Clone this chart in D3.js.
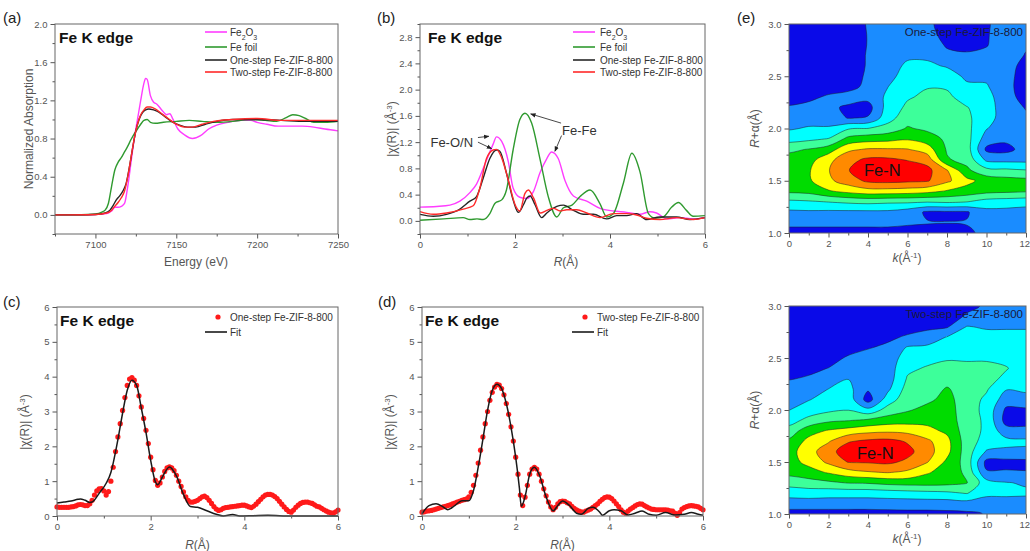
<!DOCTYPE html>
<html>
<head>
<meta charset="utf-8">
<script src="https://cdn.jsdelivr.net/npm/d3@7"></script>
<style>
  html, body { margin: 0; padding: 0; background: #fff; }
  svg { display: block; }
</style>
</head>
<body>
<svg id="fig" width="1030" height="551"></svg>
<script>
// ---------------- XANES (a): energy (eV) vs normalized absorption ----------------
const xanesFe2O3 = [[7075,0],[7090,0],[7100,0.005],[7105,0.01],[7108,0.02],[7110,0.04],[7112,0.08],[7114,0.08],[7116,0.09],[7118,0.12],[7120,0.3],[7122,0.55],[7124,0.8],[7126,1.0],[7128,1.2],[7130,1.38],[7131,1.43],[7132,1.42],[7134,1.25],[7136,1.18],[7138,1.16],[7141,1.1],[7144,1.05],[7146,1.06],[7148,1.0],[7151,0.9],[7155,0.84],[7160,0.8],[7165,0.83],[7170,0.9],[7175,0.94],[7182,0.97],[7190,0.99],[7196,0.99],[7200,0.97],[7206,0.95],[7213,0.93],[7220,0.93],[7228,0.93],[7235,0.92],[7242,0.9],[7250,0.88]];
const xanesFoil = [[7075,0],[7095,0.005],[7100,0.01],[7104,0.03],[7106,0.05],[7108,0.12],[7110,0.3],[7112,0.47],[7114,0.55],[7116,0.6],[7118,0.66],[7120,0.72],[7122,0.79],[7124,0.85],[7126,0.9],[7128,0.95],[7130,0.99],[7132,1.0],[7134,0.97],[7137,0.96],[7142,0.97],[7150,0.98],[7158,0.99],[7166,0.98],[7175,0.97],[7185,0.98],[7195,1.0],[7205,0.99],[7212,0.98],[7218,1.02],[7222,1.05],[7226,1.04],[7230,1.01],[7235,0.97],[7242,0.97],[7250,0.98]];
const xanesOne = [[7075,0],[7100,0.005],[7106,0.02],[7109,0.05],[7111,0.1],[7113,0.16],[7115,0.2],[7117,0.25],[7119,0.33],[7121,0.5],[7123,0.7],[7125,0.88],[7127,1.0],[7129,1.07],[7131,1.1],[7133,1.11],[7136,1.1],[7139,1.08],[7143,1.03],[7147,0.98],[7152,0.94],[7157,0.92],[7162,0.92],[7168,0.95],[7175,0.98],[7185,1.0],[7200,1.0],[7215,0.99],[7230,0.98],[7250,0.98]];
const xanesTwo = [[7075,0],[7100,0.005],[7107,0.02],[7110,0.05],[7112,0.09],[7114,0.13],[7116,0.18],[7118,0.25],[7120,0.4],[7122,0.6],[7124,0.8],[7126,0.95],[7128,1.05],[7130,1.1],[7132,1.13],[7134,1.13],[7137,1.11],[7141,1.06],[7145,1.01],[7150,0.95],[7155,0.92],[7160,0.92],[7166,0.95],[7173,0.98],[7185,1.0],[7200,1.01],[7215,0.99],[7230,0.99],[7250,0.99]];

// ---------------- FT-EXAFS (b): R (Å) vs |χ(R)| ----------------
const ftFe2O3 = [[0,0.21],[0.35,0.22],[0.63,0.24],[0.84,0.3],[1.05,0.43],[1.19,0.56],[1.37,0.87],[1.54,1.17],[1.61,1.28],[1.72,1.21],[1.86,0.9],[1.96,0.5],[2.1,0.36],[2.25,0.34],[2.39,0.45],[2.53,0.74],[2.67,0.95],[2.77,1.05],[2.91,0.95],[3.05,0.62],[3.23,0.38],[3.51,0.3],[3.79,0.19],[4.07,0.15],[4.35,0.13],[4.63,0.1],[4.84,0.14],[4.98,0.12],[5.2,0.03],[5.47,0.05],[5.75,0.03],[6,0.05]];
const ftFoil = [[0,0.01],[0.5,0.03],[0.91,0.05],[1.05,0.02],[1.2,0.03],[1.33,0.02],[1.47,0.11],[1.58,0.27],[1.72,0.32],[1.82,0.47],[1.96,1.08],[2.1,1.54],[2.21,1.64],[2.35,1.49],[2.53,0.93],[2.7,0.37],[2.88,0.06],[3.02,0.2],[3.2,0.24],[3.37,0.37],[3.58,0.47],[3.79,0.26],[3.93,0.06],[4.07,0.11],[4.28,0.57],[4.46,1.03],[4.63,0.75],[4.81,0.11],[4.95,0.04],[5.12,0.06],[5.3,0.21],[5.44,0.28],[5.61,0.16],[5.75,0.07],[6,0.08]];
const ftOne = [[0,0.1],[0.28,0.07],[0.56,0.1],[0.84,0.18],[1.05,0.3],[1.19,0.37],[1.33,0.65],[1.47,0.95],[1.61,1.08],[1.68,1.06],[1.82,0.73],[1.96,0.32],[2.07,0.13],[2.18,0.25],[2.25,0.35],[2.32,0.38],[2.42,0.25],[2.56,0.05],[2.67,0.12],[2.88,0.22],[3.02,0.24],[3.23,0.16],[3.44,0.1],[3.65,0.1],[3.93,0.03],[4.14,0.08],[4.35,0.08],[4.56,0.11],[4.77,0.02],[5.05,0.06],[5.4,0.06],[5.68,0.02],[6,0.05]];
const ftTwo = [[0,0.14],[0.28,0.1],[0.56,0.12],[0.91,0.18],[1.12,0.23],[1.26,0.5],[1.4,0.95],[1.54,1.08],[1.61,1.09],[1.72,0.96],[1.86,0.62],[2.0,0.25],[2.1,0.15],[2.21,0.42],[2.28,0.47],[2.39,0.35],[2.53,0.12],[2.67,0.16],[2.81,0.19],[2.95,0.15],[3.09,0.17],[3.3,0.17],[3.51,0.12],[3.79,0.05],[4.07,0.11],[4.35,0.11],[4.56,0.09],[4.77,0.04],[5.05,0.02],[5.4,0.05],[5.75,0.02],[6,0.05]];
// peak annotations: [label, label R, label |χ|, [[fromR, fromχ, toR, toχ], ...]]
const ftNotes = [
  ["Fe-O/N", 0.22, 1.12, [[1.22, 1.27, 1.45, 1.29], [1.22, 1.2, 1.51, 1.1]]],
  ["Fe-Fe", 2.99, 1.31, [[2.97, 1.49, 2.33, 1.63], [2.98, 1.3, 2.84, 1.06]]]
];

// ---------------- R-space fits (c), (d): sampled every 0.05 Å ----------------
const fitStepR = 0.05;
const dataOne = [0.26,0.25,0.25,0.25,0.25,0.25,0.26,0.27,0.29,0.32,0.33,0.32,0.30,0.30,0.35,0.45,0.60,0.72,0.78,0.79,
  0.72,0.60,0.70,1.00,1.40,1.85,2.27,2.65,3.03,3.40,3.75,3.93,3.97,3.90,3.75,3.45,3.13,2.80,2.46,2.08,
  1.69,1.33,1.02,0.88,0.95,1.12,1.28,1.38,1.41,1.38,1.30,1.17,1.00,0.85,0.69,0.55,0.45,0.40,0.40,0.42,
  0.45,0.50,0.55,0.57,0.53,0.45,0.36,0.27,0.20,0.16,0.18,0.22,0.24,0.25,0.26,0.27,0.28,0.29,0.30,0.31,
  0.31,0.29,0.26,0.24,0.28,0.34,0.41,0.48,0.55,0.60,0.62,0.62,0.60,0.56,0.50,0.42,0.34,0.26,0.19,0.13,
  0.11,0.17,0.25,0.31,0.36,0.39,0.40,0.40,0.38,0.36,0.32,0.28,0.26,0.22,0.18,0.14,0.11,0.09,0.08,0.12,0.17];
const fitOne = [[0,0.37],[0.15,0.4],[0.3,0.43],[0.45,0.48],[0.5,0.49],[0.6,0.45],[0.7,0.39],[0.75,0.4],[0.9,0.65],[1.05,0.94],[1.15,1.25],[1.2,1.52],[1.3,2.19],[1.4,2.95],[1.5,3.61],[1.6,3.9],[1.7,3.75],[1.8,3.1],[1.9,2.4],[2.0,1.6],[2.1,0.98],[2.15,0.9],[2.25,1.12],[2.4,1.41],[2.55,1.15],[2.7,0.62],[2.85,0.27],[3.0,0.25],[3.2,0.15],[3.4,0.05],[3.55,0.0],[3.75,0.04],[3.9,0.0],[4.2,0.01],[4.5,0.02],[5.0,0.0],[6.0,0.0]];
const dataTwo = [0.11,0.12,0.14,0.15,0.16,0.18,0.20,0.22,0.24,0.26,0.28,0.30,0.32,0.35,0.37,0.40,0.42,0.45,0.47,0.49,
  0.55,0.68,0.88,1.17,1.52,1.89,2.27,2.65,3.00,3.32,3.55,3.70,3.78,3.76,3.66,3.48,3.23,2.92,2.56,2.15,
  1.69,1.20,0.60,0.30,0.54,0.88,1.20,1.35,1.40,1.35,1.20,1.00,0.78,0.58,0.40,0.26,0.18,0.25,0.35,0.41,
  0.43,0.42,0.38,0.35,0.28,0.22,0.18,0.14,0.12,0.11,0.14,0.17,0.20,0.25,0.30,0.35,0.42,0.48,0.53,0.55,
  0.54,0.50,0.43,0.35,0.27,0.18,0.11,0.08,0.14,0.20,0.24,0.29,0.33,0.35,0.34,0.30,0.26,0.23,0.20,0.19,
  0.18,0.18,0.18,0.18,0.18,0.17,0.15,0.14,0.08,0.02,0.10,0.20,0.24,0.27,0.29,0.30,0.29,0.28,0.26,0.22,0.18];
const fitTwo = [[0,0.06],[0.15,0.3],[0.3,0.35],[0.45,0.26],[0.55,0.18],[0.7,0.3],[0.85,0.44],[1.0,0.44],[1.1,0.73],[1.2,1.4],[1.3,2.2],[1.4,3.03],[1.5,3.6],[1.6,3.78],[1.7,3.66],[1.8,3.23],[1.9,2.56],[2.0,1.69],[2.08,0.8],[2.12,0.28],[2.2,0.55],[2.3,1.2],[2.4,1.4],[2.5,1.2],[2.65,0.55],[2.8,0.15],[2.9,0.3],[3.0,0.43],[3.15,0.3],[3.3,0.08],[3.4,0.05],[3.55,0.22],[3.65,0.25],[3.8,0.1],[3.85,0.02],[4.0,0.15],[4.1,0.18],[4.25,0.15],[4.4,0.03],[4.55,0.08],[4.7,0.14],[4.85,0.05],[5.0,0.02],[5.2,0.1],[5.4,0.03],[5.6,0.05],[5.75,0.1],[5.9,0.05],[6.0,0.02]];

// ---------------- Wavelet transform (e): one column per k, rows R = 1.0 … 3.0 ----------------
const wtK = [0,1,2,3,4,5,6,7,8,9,10,11,12];
const wtR = [1.0,1.1,1.2,1.3,1.4,1.5,1.6,1.7,1.8,1.9,2.0,2.1,2.2,2.3,2.4,2.5,2.6,2.7,2.8,2.9,3.0];
const wtOneStep = [
  [0.6,1.3,1.8,2.8,4.2,4.6,4.7,4.4,3.8,2.6,1.9,1.5,1.05,0.8,0.6,0.5,0.4,0.4,0.3,0.3,0.3],
  [0.6,1.3,1.85,2.9,4.3,4.85,4.9,4.6,4.05,2.8,2.1,1.6,1.2,0.85,0.6,0.5,0.4,0.4,0.4,0.4,0.4],
  [0.6,1.3,1.8,3.05,4.9,5.8,5.95,5.7,4.5,3.05,2.1,1.6,1.25,1.1,0.7,0.5,0.4,0.4,0.4,0.4,0.4],
  [0.6,1.3,1.8,3.2,5.3,6.5,6.95,6.7,5.8,4.3,2.9,0.95,0.8,1.5,0.6,0.4,0.4,0.35,0.3,0.3,0.3],
  [0.6,1.3,1.8,3.3,5.6,7.2,7.8,7.2,6.1,4.6,3.02,1.1,0.6,1.3,1.3,1.2,1.1,1.1,1.05,1.05,1.1],
  [0.6,1.3,1.8,3.2,5.6,7.3,7.9,7.2,6.1,4.7,3.4,2.6,2.4,2.2,1.98,1.7,1.5,1.4,1.3,1.3,1.3],
  [0.6,1.15,1.5,3.2,5.5,7.2,7.6,6.95,6.05,4.9,4.1,3.6,3.2,2.9,2.7,2.4,2.2,1.8,1.5,1.3,1.2],
  [0.7,1.05,0.85,3.1,5.3,7.1,7.3,6.6,5.5,4.5,3.8,3.6,3.4,3.2,2.95,2.6,2.2,1.8,1.5,1.3,1.2],
  [0.75,1.02,0.85,3.2,4.9,6.2,6.05,4.1,3.9,3.8,3.7,3.6,3.4,3.2,2.9,2.5,1.9,1.2,0.9,0.7,0.6],
  [0.85,1.05,0.9,3.05,4.6,5.3,4.2,3.7,3.5,3.4,3.3,3.2,3.05,2.6,2.2,1.8,1.5,1.1,0.8,0.6,0.5],
  [1.2,1.4,1.7,2.6,4.3,4.6,3.3,1.8,0.8,1.5,2.05,2.4,2.5,2.4,2.1,1.8,1.5,1.2,0.95,0.9,0.85],
  [1.3,1.4,1.7,2.5,4.2,4.4,3.2,1.7,0.7,1.2,1.4,1.5,1.4,1.3,1.25,1.3,1.35,1.4,1.5,1.6,1.6],
  [1.3,1.4,1.6,2.4,4.1,4.3,3.05,1.7,1.4,1.4,1.3,1.15,0.95,0.7,0.6,0.6,0.7,0.95,1.1,1.2,1.3]
];
const wtTwoStep = [
  [0.6,1.5,2.4,3.4,4.3,4.6,4.6,4.2,3.4,2.6,1.98,1.7,1.4,0.95,0.7,0.5,0.4,0.35,0.3,0.3,0.3],
  [0.6,1.5,2.5,3.6,4.6,5.3,5.6,5.3,4.6,3.3,2.5,1.95,1.5,1.1,0.8,0.6,0.5,0.4,0.4,0.4,0.4],
  [0.6,1.5,2.4,3.8,5.1,6.2,6.6,5.9,5.1,3.8,2.8,2.4,2.02,1.5,1.02,0.7,0.5,0.4,0.4,0.4,0.4],
  [0.6,1.5,2.4,4.05,5.6,7.05,7.6,6.9,5.4,3.95,2.98,2.6,2.3,1.98,1.6,1.1,0.7,0.5,0.4,0.4,0.4],
  [0.6,1.5,2.4,4.1,5.9,7.1,7.8,7.2,5.7,4.2,2.3,0.55,1.1,1.5,1.6,1.3,0.95,0.7,0.5,0.4,0.4],
  [0.65,1.5,2.5,4.3,6.05,7.2,7.8,7.3,5.8,4.5,3.4,2.5,1.8,1.5,1.5,1.4,1.15,0.85,0.6,0.5,0.4],
  [0.7,1.5,2.6,4.4,5.8,6.8,7.3,6.9,5.7,4.6,3.9,3.6,3.4,3.1,2.8,2.5,2.1,1.1,0.7,0.5,0.4],
  [0.7,1.5,2.7,4.4,5.1,6.05,6.4,6.2,5.3,4.7,4.3,3.8,3.5,3.3,3.1,2.7,2.2,1.4,0.8,0.6,0.5],
  [0.75,1.5,2.8,4.3,4.6,4.8,5.3,5.3,4.8,4.5,4.4,4.3,4.1,3.6,3.3,2.9,2.5,2.05,0.9,0.6,0.5],
  [0.8,1.6,3.05,4.05,3.8,3.6,3.5,3.5,3.5,3.5,3.5,3.5,3.5,3.4,3.2,2.9,2.6,2.3,2.05,1.1,0.8],
  [1.05,1.4,2.3,2.4,1.1,0.7,1.9,2.6,2.8,2.8,2.7,2.8,3.1,3.3,3.2,2.9,2.6,2.3,1.9,1.5,1.1],
  [1.3,1.6,2.2,2.05,1.1,0.7,1.8,2.3,1.4,0.6,0.8,1.5,2.05,2.8,3.05,2.8,2.6,2.3,1.9,1.6,1.4],
  [1.4,1.6,2.15,1.9,1.05,0.75,1.8,2.2,1.3,0.6,0.85,1.6,2.2,2.5,2.6,2.6,2.5,2.3,1.9,1.6,1.4]
];
const wtLevels = [1, 2, 3, 4, 5, 6, 7];
const wtColors = ["#0a0ae8", "#1a8cff", "#00ffff", "#3dff9a", "#00dc00", "#ffff00", "#ff8a00", "#ff0000"];

// ---------------- drawing ----------------
const FONT = '"Liberation Sans", Arial, Helvetica, sans-serif';
const svg = d3.select("#fig").style("font-family", FONT);

function panel(o) {
  const x = d3.scaleLinear().domain(o.xDomain).range([o.left, o.right]);
  const y = d3.scaleLinear().domain(o.yDomain).range([o.bottom, o.top]);
  const g = svg.append("g");
  const body = g.append("g");
  const axes = g.append("g");
  axes.append("g").attr("transform", `translate(0,${o.bottom})`)
    .call(d3.axisBottom(x).tickValues(o.xMinor).tickSize(2.5).tickFormat(""));
  axes.append("g").attr("class", "x-major").attr("transform", `translate(0,${o.bottom})`)
    .call(d3.axisBottom(x).tickValues(o.xTicks).tickSize(4.5).tickPadding(3).tickFormat(o.xFormat));
  axes.append("g").attr("transform", `translate(${o.left},0)`)
    .call(d3.axisLeft(y).tickValues(o.yMinor).tickSize(2.5).tickFormat(""));
  axes.append("g").attr("transform", `translate(${o.left},0)`)
    .call(d3.axisLeft(y).tickValues(o.yTicks).tickSize(4.5).tickPadding(3).tickFormat(o.yFormat));
  axes.selectAll(".domain").remove();
  axes.selectAll(".tick line").attr("stroke", "#555").attr("stroke-width", 1);
  axes.selectAll(".tick text").attr("font-size", 9.5).attr("fill", "#555").attr("font-family", FONT);
  axes.append("rect")
    .attr("x", o.left).attr("y", o.top)
    .attr("width", o.right - o.left).attr("height", o.bottom - o.top)
    .attr("fill", "none").attr("stroke", "#666").attr("stroke-width", 1);
  return { g, body, axes, x, y, o };
}

function text(sel, x, y, str, size, opts = {}) {
  return sel.append("text").attr("x", x).attr("y", y).text(str)
    .attr("font-size", size).attr("fill", opts.fill || "#333")
    .attr("font-weight", opts.weight || "normal")
    .attr("text-anchor", opts.anchor || "start");
}

function rTitle(sel, cx, y) {
  const t = sel.append("text").attr("x", cx).attr("y", y).attr("text-anchor", "middle")
    .attr("font-size", 12).attr("fill", "#555");
  t.append("tspan").attr("font-style", "italic").text("R");
  t.append("tspan").text("(Å)");
}

function chiTitle(sel, x, cy) {
  const t = sel.append("text").attr("transform", `translate(${x},${cy}) rotate(-90)`)
    .attr("text-anchor", "middle").attr("font-size", 12).attr("fill", "#555");
  t.append("tspan").text("|χ(R)| (Å");
  t.append("tspan").attr("baseline-shift", "super").attr("font-size", 8).text("-3");
  t.append("tspan").text(")");
}

function feOxideLabel(sel, x, y) {
  const t = sel.append("text").attr("x", x).attr("y", y).attr("font-size", 10).attr("fill", "#333");
  t.append("tspan").text("Fe");
  t.append("tspan").attr("baseline-shift", "sub").attr("font-size", 7).text("2");
  t.append("tspan").text("O");
  t.append("tspan").attr("baseline-shift", "sub").attr("font-size", 7).text("3");
}

const lineGen = (p) => d3.line().x(d => p.x(d[0])).y(d => p.y(d[1])).curve(d3.curveMonotoneX);

const seriesStyle = [
  { name: "Fe2O3", color: "#ff3dff" },
  { name: "Fe foil", color: "#2f9a2f" },
  { name: "One-step Fe-ZIF-8-800", color: "#262626" },
  { name: "Two-step Fe-ZIF-8-800", color: "#ff2a2a" }
];

function lineLegend(p, lx, tx, rows) {
  seriesStyle.forEach((s, i) => {
    p.g.append("line").attr("x1", lx).attr("x2", lx + 22).attr("y1", rows[i]).attr("y2", rows[i])
      .attr("stroke", s.color).attr("stroke-width", 1.6);
    if (i === 0) feOxideLabel(p.g, tx, rows[i] + 3.5);
    else text(p.g, tx, rows[i] + 3.5, s.name, 10);
  });
}

// ---- (a) XANES ----
const pa = panel({
  left: 55, right: 338, top: 24, bottom: 234,
  xDomain: [7075, 7250], yDomain: [-0.2, 2.0],
  xTicks: [7100, 7150, 7200, 7250], xMinor: [7075, 7125, 7175, 7225], xFormat: d3.format("d"),
  yTicks: [0, 0.4, 0.8, 1.2, 1.6, 2.0], yMinor: [-0.2, 0.2, 0.6, 1.0, 1.4, 1.8], yFormat: d3.format(".1f")
});
[xanesFe2O3, xanesFoil, xanesOne, xanesTwo].forEach((s, i) => {
  pa.body.append("path").datum(s).attr("d", lineGen(pa)).attr("fill", "none")
    .attr("stroke", seriesStyle[i].color).attr("stroke-width", 1.4);
});
lineLegend(pa, 205, 230, [32, 47, 60, 72]);
text(pa.g, 59, 43, "Fe K edge", 15.5, { weight: "bold", fill: "#111" });
text(svg, 3, 23, "(a)", 15, { fill: "#222" });
text(svg, 196, 266, "Energy (eV)", 12, { fill: "#555", anchor: "middle" });
svg.append("text").attr("transform", "translate(33,129) rotate(-90)").attr("text-anchor", "middle")
  .attr("font-size", 12).attr("fill", "#555").text("Normalized Absorption");

// ---- (b) FT-EXAFS ----
const pb = panel({
  left: 420, right: 705, top: 24, bottom: 234,
  xDomain: [0, 6], yDomain: [-0.2, 3.0],
  xTicks: [0, 2, 4, 6], xMinor: [1, 3, 5], xFormat: d3.format("d"),
  yTicks: [0, 0.4, 0.8, 1.2, 1.6, 2.0, 2.4, 2.8], yMinor: [-0.2, 0.2, 0.6, 1.0, 1.4, 1.8, 2.2, 2.6, 3.0], yFormat: d3.format(".1f")
});
[ftFe2O3, ftFoil, ftOne, ftTwo].forEach((s, i) => {
  pb.body.append("path").datum(s).attr("d", lineGen(pb)).attr("fill", "none")
    .attr("stroke", seriesStyle[i].color).attr("stroke-width", 1.4);
});
lineLegend(pb, 573, 600, [32, 47, 60, 72]);
text(pb.g, 428, 43, "Fe K edge", 15.5, { weight: "bold", fill: "#111" });
text(svg, 377, 23, "(b)", 15, { fill: "#222" });
rTitle(svg, 566, 266);
chiTitle(svg, 396, 129);

svg.append("defs").append("marker").attr("id", "arrowHead")
  .attr("viewBox", "0 0 10 10").attr("refX", 9).attr("refY", 5)
  .attr("markerWidth", 6).attr("markerHeight", 6).attr("orient", "auto")
  .append("path").attr("d", "M0,1 L10,5 L0,9 Z").attr("fill", "#222");
ftNotes.forEach(([label, lr, lv, arrows]) => {
  text(pb.g, pb.x(lr), pb.y(lv), label, 13, { fill: "#333" });
  arrows.forEach(a => {
    pb.g.append("line")
      .attr("x1", pb.x(a[0])).attr("y1", pb.y(a[1]))
      .attr("x2", pb.x(a[2])).attr("y2", pb.y(a[3]))
      .attr("stroke", "#333").attr("stroke-width", 0.9)
      .attr("marker-end", "url(#arrowHead)");
  });
});

// ---- (c), (d) R-space fits ----
function fitPanel(left, right, data, fit, legendText, labels) {
  const p = panel({
    left, right, top: 307, bottom: 516,
    xDomain: [0, 6], yDomain: [0, 6],
    xTicks: [0, 2, 4, 6], xMinor: [1, 3, 5], xFormat: d3.format("d"),
    yTicks: [0, 1, 2, 3, 4, 5, 6], yMinor: [0.5, 1.5, 2.5, 3.5, 4.5, 5.5], yFormat: d3.format("d")
  });
  p.body.selectAll("circle").data(data).join("circle")
    .attr("cx", (d, i) => p.x(i * fitStepR)).attr("cy", d => p.y(d))
    .attr("r", 2.6).attr("fill", "#ff1a1a");
  p.body.append("path").datum(fit).attr("d", lineGen(p)).attr("fill", "none")
    .attr("stroke", "#1a1a1a").attr("stroke-width", 1.5);
  const lx = labels.legendX;
  p.g.append("circle").attr("cx", lx + 13).attr("cy", 317).attr("r", 2.6).attr("fill", "#ff1a1a");
  text(p.g, lx + 25, 320.5, legendText, 10);
  p.g.append("line").attr("x1", lx).attr("x2", lx + 22).attr("y1", 332).attr("y2", 332)
    .attr("stroke", "#1a1a1a").attr("stroke-width", 1.6);
  text(p.g, lx + 25, 335.5, "Fit", 10);
  text(p.g, left + 3, 326, "Fe K edge", 15.5, { weight: "bold", fill: "#111" });
  rTitle(svg, (left + right) / 2, 549);
  chiTitle(svg, labels.chiX, 422);
  return p;
}
fitPanel(57, 338, dataOne, fitOne, "One-step Fe-ZIF-8-800", { legendX: 205, chiX: 29 });
fitPanel(422, 703, dataTwo, fitTwo, "Two-step Fe-ZIF-8-800", { legendX: 572, chiX: 394 });
text(svg, 3, 307, "(c)", 15, { fill: "#222" });
text(svg, 378, 307, "(d)", 15, { fill: "#222" });

// ---- (e) wavelet transform contour maps ----
function wtPanel(top, bottom, cols, name, clipId, feN) {
  const p = panel({
    left: 789, right: 1026, top, bottom,
    xDomain: [0, 12], yDomain: [1, 3],
    xTicks: [0, 2, 4, 6, 8, 10, 12], xMinor: [1, 3, 5, 7, 9, 11], xFormat: d3.format("d"),
    yTicks: [1, 1.5, 2, 2.5, 3], yMinor: [1.25, 1.75, 2.25, 2.75], yFormat: d3.format(".1f")
  });
  // the last k label sits against the page edge: right-align it so it stays whole
  p.axes.selectAll(".x-major .tick text").filter(d => d === 12)
    .attr("text-anchor", "end").attr("dx", 3.5);

  p.g.append("clipPath").attr("id", clipId).append("rect")
    .attr("x", 789).attr("y", top).attr("width", 1026 - 789).attr("height", bottom - top);
  const layer = p.body.append("g").attr("clip-path", `url(#${clipId})`);
  layer.append("rect").attr("x", 789).attr("y", top).attr("width", 1026 - 789).attr("height", bottom - top)
    .attr("fill", wtColors[0]);

  // grid padded by one replicated sample on every side so the edge rings fall outside the clip
  const nK = cols.length, nR = cols[0].length, W = nK + 2, H = nR + 2;
  const values = new Array(W * H);
  for (let j = 0; j < H; j++) {
    for (let i = 0; i < W; i++) {
      const ci = Math.min(nK - 1, Math.max(0, i - 1));
      const rj = Math.min(nR - 1, Math.max(0, j - 1));
      values[j * W + i] = cols[ci][rj];
    }
  }
  const kOf = d3.scaleLinear().domain([1.5, 1.5 + nK - 1]).range([wtK[0], wtK[nK - 1]]);
  const rOf = d3.scaleLinear().domain([1.5, 1.5 + nR - 1]).range([wtR[0], wtR[nR - 1]]);
  const ring = d3.line().x(pt => p.x(kOf(pt[0]))).y(pt => p.y(rOf(pt[1])))
    .curve(d3.curveCatmullRomClosed.alpha(0.5));
  const bands = d3.contours().size([W, H]).thresholds(wtLevels)(values);
  bands.forEach((band, i) => {
    const d = band.coordinates.map(poly => poly.map(r => ring(r.slice(0, -1))).join("")).join("");
    layer.append("path").attr("d", d).attr("fill", wtColors[i + 1]).attr("fill-rule", "evenodd")
      .attr("stroke", "#1c1c2a").attr("stroke-width", 0.6).attr("stroke-opacity", 0.85);
  });
  text(p.g, 1023, top + 12, name, 11.5, { fill: "#1a1a3a", anchor: "end" });
  text(p.g, p.x(feN[0]), p.y(feN[1]) + 6, "Fe-N", 16.5, { fill: "#111", anchor: "middle" });
  const kt = svg.append("text").attr("x", 907).attr("y", bottom + 29).attr("text-anchor", "middle")
    .attr("font-size", 12).attr("fill", "#555");
  kt.append("tspan").attr("font-style", "italic").text("k");
  kt.append("tspan").text("(Å");
  kt.append("tspan").attr("baseline-shift", "super").attr("font-size", 8).text("-1");
  kt.append("tspan").text(")");
  const rt = svg.append("text").attr("transform", `translate(759,${(top + bottom) / 2}) rotate(-90)`)
    .attr("text-anchor", "middle").attr("font-size", 12).attr("fill", "#555");
  rt.append("tspan").attr("font-style", "italic").text("R");
  rt.append("tspan").text("+α(Å)");
  return p;
}
wtPanel(24, 233, wtOneStep, "One-step Fe-ZIF-8-800", "clipWtOne", [4.72, 1.6]);
wtPanel(306, 514, wtTwoStep, "Two-step Fe-ZIF-8-800", "clipWtTwo", [4.37, 1.585]);
text(svg, 737, 23, "(e)", 15, { fill: "#222" });
</script>
</body>
</html>
